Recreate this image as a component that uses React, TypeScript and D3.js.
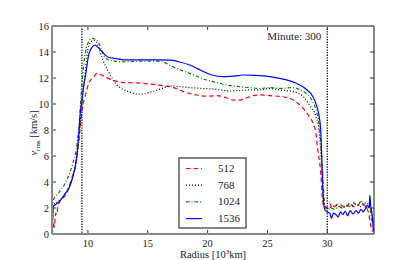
import { useRef, useEffect } from 'react';
import * as d3 from 'd3';

// radius [10^3 km] and v_rms [km/s], one pair per run
const r512 = [7.0, 7.05, 7.1, 7.2, 7.3, 7.4, 7.5, 8.25, 8.66, 9.0, 9.24, 9.5, 9.6, 9.8, 10.07, 10.4, 10.77, 11.2, 11.7, 12.85, 14.5, 15.9, 17.15, 18.0, 19.1, 20.0, 20.8, 21.5, 22.15, 22.7, 23.2, 23.8, 24.4, 25.2, 26.3, 27.15, 27.85, 28.4, 29.0, 29.2, 29.45, 29.6, 29.8, 30.0, 30.2, 30.4, 30.6, 30.9, 31.2, 31.5, 31.9, 32.2, 32.6, 32.75, 33.0, 33.3, 33.45, 33.6, 33.7, 33.8];
const v512 = [0.3, 0.1, 0.9, 0.5, 1.6, 1.5, 2.2, 3.2, 4.3, 5.5, 7.2, 9.4, 10.0, 10.7, 11.6, 12.0, 12.35, 12.2, 11.97, 11.67, 11.6, 11.45, 11.26, 10.95, 10.69, 10.6, 10.64, 10.5, 10.3, 10.3, 10.45, 10.64, 10.7, 10.64, 10.56, 10.3, 9.8, 9.15, 8.0, 6.5, 4.7, 2.6, 2.0, 2.1, 2.36, 2.0, 2.1, 2.3, 2.2, 2.0, 2.4, 2.1, 2.2, 2.5, 2.3, 2.0, 1.6, 0.8, 0.3, 0.2];

const r768 = [7.0, 7.05, 7.1, 7.5, 8.1, 8.66, 9.1, 9.3, 9.45, 9.6, 9.8, 10.07, 10.5, 10.8, 11.2, 11.7, 12.4, 13.4, 14.4, 15.35, 16.2, 16.9, 17.6, 18.5, 19.5, 20.5, 21.9, 23.5, 24.4, 25.2, 26.0, 27.15, 28.0, 28.5, 29.0, 29.3, 29.5, 29.65, 29.8, 30.0, 30.4, 30.8, 31.2, 31.6, 32.0, 32.4, 32.8, 33.2, 33.5, 33.7, 33.85];
const v768 = [0.0, 1.2, 2.2, 2.5, 3.1, 4.2, 6.0, 7.8, 9.6, 11.0, 12.6, 14.5, 14.9, 14.6, 13.5, 12.5, 11.5, 10.95, 10.75, 10.95, 11.2, 11.4, 11.35, 11.26, 11.2, 11.15, 11.0, 11.08, 11.08, 11.2, 11.08, 10.95, 10.56, 9.92, 9.15, 8.0, 5.5, 3.0, 2.1, 2.0, 2.1, 2.2, 2.0, 2.2, 2.1, 2.3, 2.1, 2.4, 2.2, 1.6, 0.8];

const r1024 = [7.0, 7.05, 7.1, 7.5, 8.1, 8.66, 9.1, 9.3, 9.4, 9.5, 9.65, 9.8, 10.07, 10.35, 10.6, 10.77, 11.0, 11.5, 12.2, 13.1, 14.5, 15.5, 16.2, 17.0, 17.8, 18.5, 19.2, 19.9, 20.8, 21.6, 22.5, 23.5, 24.4, 25.2, 26.0, 27.15, 28.0, 28.4, 28.7, 29.1, 29.3, 29.5, 29.65, 29.8, 30.0, 30.3, 30.6, 31.0, 31.3, 31.6, 31.9, 32.2, 32.5, 32.8, 33.0, 33.3, 33.5, 33.65, 33.8];
const v1024 = [0.0, 1.5, 2.6, 3.1, 3.9, 5.2, 7.0, 8.8, 10.3, 11.5, 13.0, 14.0, 14.8, 15.05, 15.0, 14.9, 14.5, 13.5, 13.3, 13.25, 13.3, 13.3, 13.25, 12.9, 12.6, 12.36, 12.1, 11.85, 11.65, 11.46, 11.35, 11.26, 11.2, 11.26, 11.2, 11.26, 10.95, 10.7, 10.3, 9.4, 8.5, 6.5, 4.0, 2.2, 1.9, 2.0, 1.9, 2.1, 2.0, 2.2, 2.1, 2.4, 2.2, 2.5, 2.3, 2.0, 2.1, 1.5, 0.6];

const r1536 = [7.0, 7.05, 7.1, 7.2, 7.5, 7.7, 8.1, 8.4, 8.66, 8.96, 9.1, 9.24, 9.38, 9.5, 9.65, 9.8, 10.07, 10.3, 10.57, 10.9, 11.2, 11.7, 12.3, 13.1, 14.5, 15.9, 16.9, 17.6, 18.5, 19.2, 19.65, 20.3, 21.3, 22.2, 23.0, 24.0, 25.2, 26.0, 26.8, 27.4, 28.0, 28.3, 28.8, 29.1, 29.3, 29.45, 29.55, 29.65, 29.8, 30.0, 30.2, 30.35, 30.5, 30.76, 30.9, 31.1, 31.3, 31.5, 31.7, 31.9, 32.15, 32.4, 32.6, 32.8, 33.0, 33.2, 33.35, 33.5, 33.55, 33.62, 33.7, 33.85];
const v1536 = [0.0, 1.0, 2.1, 2.2, 2.4, 2.6, 3.1, 3.5, 4.15, 5.3, 6.2, 7.75, 9.5, 10.3, 11.4, 12.2, 13.8, 14.3, 14.54, 14.3, 14.0, 13.6, 13.5, 13.4, 13.4, 13.4, 13.38, 13.25, 13.0, 12.7, 12.5, 12.25, 12.1, 12.15, 12.23, 12.2, 12.1, 11.97, 11.8, 11.6, 11.3, 11.08, 10.56, 9.9, 9.15, 8.0, 5.5, 3.0, 1.85, 1.7, 1.6, 1.2, 1.6, 1.46, 1.3, 1.7, 1.5, 1.75, 1.4, 1.8, 1.55, 1.8, 1.6, 1.9, 1.7, 2.0, 2.2, 2.0, 3.0, 2.2, 1.8, 0.2];

const seriesNames = ['512', '768', '1024', '1536'];
const xTicks = [10, 15, 20, 25, 30];
const yTicks = [0, 2, 4, 6, 8, 10, 12, 14, 16];
const markerLines = [9.5, 30];
const minuteLabel = 'Minute: 300';

const FONT = 'Liberation Serif, DejaVu Serif, serif';

const RmsChart = () => {
    const svgRef = useRef<SVGSVGElement | null>(null);

    useEffect(() => {
        const svgElement = svgRef.current;
        if (!svgElement) return;

        const width = 415;
        const height = 260;
        const margin = { top: 26, right: 41, bottom: 26, left: 52 };

        const svg = d3.select(svgElement).attr('font-family', FONT);
        svg.selectAll('*').remove();

        svg.append('rect').attr('width', width).attr('height', height).attr('fill', '#fff');

        const x = d3.scaleLinear().domain([7, 33.9]).range([margin.left, width - margin.right]);
        const y = d3.scaleLinear().domain([0, 16]).range([height - margin.bottom, margin.top]);

        const styles = [
            { r: r512, v: v512, color: '#ff0000', dash: '4.5,3' },
            { r: r768, v: v768, color: '#000000', dash: '1,2' },
            { r: r1024, v: v1024, color: '#008000', dash: '3.5,2,1,2' },
            { r: r1536, v: v1536, color: '#0000ff', dash: null },
        ];

        const plot = svg.append('g');
        plot.append('clipPath').attr('id', 'plotclip')
            .append('rect')
            .attr('x', margin.left).attr('y', margin.top)
            .attr('width', width - margin.left - margin.right)
            .attr('height', height - margin.top - margin.bottom);

        // vertical markers
        markerLines.forEach(m => {
            plot.append('line')
                .attr('x1', x(m)).attr('x2', x(m))
                .attr('y1', margin.top).attr('y2', height - margin.bottom)
                .attr('stroke', '#111')
                .attr('stroke-width', 1.3)
                .attr('stroke-dasharray', '1.3,1.3');
        });

        const line = d3.line<[number, number]>()
            .x(d => x(d[0]))
            .y(d => y(d[1]))
            .curve(d3.curveMonotoneX);

        styles.forEach(s => {
            const pts = s.r.map((r, i) => [r, s.v[i]] as [number, number]);
            const p = plot.append('path')
                .datum(pts)
                .attr('clip-path', 'url(#plotclip)')
                .attr('fill', 'none')
                .attr('stroke', s.color)
                .attr('stroke-width', 1.2)
                .attr('d', line as unknown as string);
            if (s.dash) p.attr('stroke-dasharray', s.dash);
        });

        // ticks (inward, all four sides)
        const x0 = margin.left, x1 = width - margin.right;
        const y0 = height - margin.bottom, y1 = margin.top;
        xTicks.forEach(t => {
            svg.append('line').attr('x1', x(t)).attr('x2', x(t)).attr('y1', y0).attr('y2', y0 - 4).attr('stroke', '#333');
            svg.append('line').attr('x1', x(t)).attr('x2', x(t)).attr('y1', y1).attr('y2', y1 + 4).attr('stroke', '#333');
            svg.append('text')
                .attr('x', x(t)).attr('y', y0 + 13)
                .attr('text-anchor', 'middle')
                .attr('font-size', 10.5).attr('fill', '#222')
                .text(t);
        });
        yTicks.forEach(t => {
            svg.append('line').attr('x1', x0).attr('x2', x0 + 4).attr('y1', y(t)).attr('y2', y(t)).attr('stroke', '#333');
            svg.append('line').attr('x1', x1).attr('x2', x1 - 4).attr('y1', y(t)).attr('y2', y(t)).attr('stroke', '#333');
            svg.append('text')
                .attr('x', x0 - 3).attr('y', y(t) + 3.5)
                .attr('text-anchor', 'end')
                .attr('font-size', 10.5).attr('fill', '#222')
                .text(t);
        });

        // frame
        svg.append('line').attr('x1', x0).attr('x2', x0).attr('y1', y1).attr('y2', y0).attr('stroke', '#888').attr('stroke-width', 2);
        svg.append('line').attr('x1', x0).attr('x2', x1).attr('y1', y0).attr('y2', y0).attr('stroke', '#888').attr('stroke-width', 2);
        svg.append('line').attr('x1', x0).attr('x2', x1).attr('y1', y1).attr('y2', y1).attr('stroke', '#888').attr('stroke-width', 2);
        svg.append('line').attr('x1', x1).attr('x2', x1).attr('y1', y1).attr('y2', y0).attr('stroke', '#111').attr('stroke-width', 1);

        // axis labels
        const xl = svg.append('text')
            .attr('x', (x0 + x1) / 2).attr('y', y0 + 24)
            .attr('text-anchor', 'middle')
            .attr('font-size', 10.5).attr('fill', '#222');
        xl.append('tspan').text('Radius [10');
        xl.append('tspan').attr('dy', -4).attr('font-size', 7).text('3');
        xl.append('tspan').attr('dy', 4).text('km]');

        const yl = svg.append('text')
            .attr('transform', `translate(37, ${(y0 + y1) / 2 + 3}) rotate(-90)`)
            .attr('text-anchor', 'middle')
            .attr('font-size', 10.5).attr('fill', '#222');
        yl.append('tspan').attr('font-style', 'italic').text('v');
        yl.append('tspan').attr('dy', 2.5).attr('font-size', 7).text('rms');
        yl.append('tspan').attr('dy', -2.5).text(' [km/s]');

        svg.append('text')
            .attr('x', x(29.5)).attr('y', 40)
            .attr('text-anchor', 'end')
            .attr('font-size', 11).attr('fill', '#222')
            .text(minuteLabel);

        // legend
        const lg = svg.append('g');
        lg.append('rect')
            .attr('x', 179).attr('y', 158).attr('width', 67).attr('height', 70)
            .attr('fill', '#fff').attr('stroke', '#444').attr('stroke-width', 1.3);
        styles.forEach((s, i) => {
            const ly = 168.5 + i * 16.7;
            const l = lg.append('line')
                .attr('x1', 186).attr('x2', 202).attr('y1', ly).attr('y2', ly)
                .attr('stroke', s.color).attr('stroke-width', 1.2);
            if (s.dash) l.attr('stroke-dasharray', s.dash);
            lg.append('text')
                .attr('x', 218).attr('y', ly + 3.5)
                .attr('font-size', 11).attr('fill', '#222')
                .text(seriesNames[i]);
        });
    }, []);

    return (
        <svg ref={svgRef} width={415} height={260} style={{ position: 'absolute', left: 0, top: 0 }}></svg>
    );
};

export default function App() {
    return <RmsChart />;
}
